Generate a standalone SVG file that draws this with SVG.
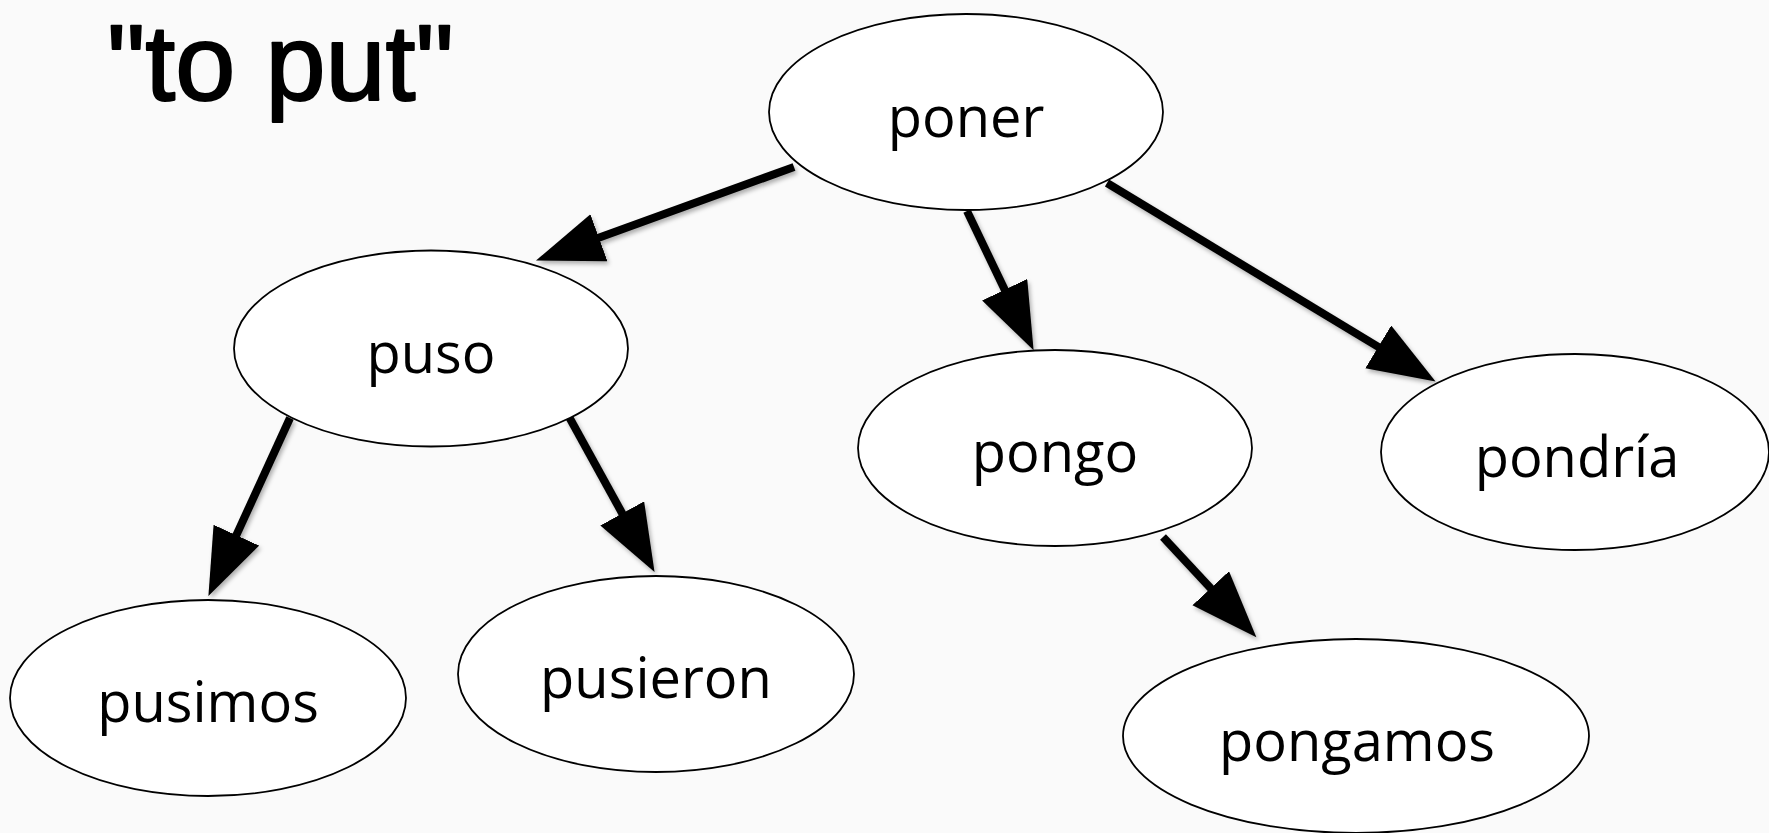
<svg xmlns="http://www.w3.org/2000/svg" width="1769" height="833" viewBox="0 0 1769 833">
  <style>
    .node ellipse { fill: #ffffff; stroke: #000000; stroke-width: 1.8; }
    .node text { font-family: "Open Sans", "Noto Sans", sans-serif; font-size: 56px; fill: #000000; text-anchor: middle; }
    .edge { stroke: #000000; stroke-width: 8; fill: none; marker-end: url(#head); }
    .title { font-family: "Comic Sans MS", "Liberation Sans", sans-serif; font-size: 108px; fill: #000000; stroke: #000000; stroke-width: 2; stroke-linejoin: round; }
  </style>
  <defs>
    <marker id="head" markerUnits="userSpaceOnUse" markerWidth="70" markerHeight="52" refX="1" refY="25" orient="auto">
      <path d="M0,0 L67,25 L0,50 Z" fill="#000000"/>
    </marker>
    <filter id="shadow" x="-10%" y="-10%" width="130%" height="130%">
      <feDropShadow dx="2" dy="3" stdDeviation="2" flood-color="#000000" flood-opacity="0.3"/>
    </filter>
  </defs>

  <rect x="0" y="0" width="1769" height="833" fill="#fafafa"/>

  <text class="title" x="107" y="100">"to put"</text>

  <!-- connectors -->
  <g id="connectors" filter="url(#shadow)">
    <line class="edge" x1="794" y1="167" x2="598" y2="238.1"/>
    <line class="edge" x1="967" y1="211" x2="1005.1" y2="290.6"/>
    <line class="edge" x1="1107" y1="183" x2="1379.1" y2="347.4"/>
    <line class="edge" x1="290" y1="418" x2="235.9" y2="536.1"/>
    <line class="edge" x1="568" y1="415" x2="622.7" y2="514.3"/>
    <line class="edge" x1="1163" y1="537" x2="1211.4" y2="589"/>
  </g>

  <g id="poner" class="node">
    <ellipse cx="966" cy="112" rx="197" ry="98"/>
    <text x="966" y="137">poner</text>
  </g>
  <g id="puso" class="node">
    <ellipse cx="431" cy="348.5" rx="197" ry="98"/>
    <text x="431" y="373">puso</text>
  </g>
  <g id="pongo" class="node">
    <ellipse cx="1055" cy="448" rx="197" ry="98"/>
    <text x="1055" y="472">pongo</text>
  </g>
  <g id="pondria" class="node">
    <ellipse cx="1575" cy="452" rx="194" ry="98"/>
    <text x="1577" y="477">pondría</text>
  </g>
  <g id="pusimos" class="node">
    <ellipse cx="208" cy="698" rx="198" ry="98"/>
    <text x="208" y="722">pusimos</text>
  </g>
  <g id="pusieron" class="node">
    <ellipse cx="656" cy="674" rx="198" ry="98"/>
    <text x="656" y="698">pusieron</text>
  </g>
  <g id="pongamos" class="node">
    <ellipse cx="1356" cy="736" rx="233" ry="97"/>
    <text x="1357" y="761">pongamos</text>
  </g>
</svg>
